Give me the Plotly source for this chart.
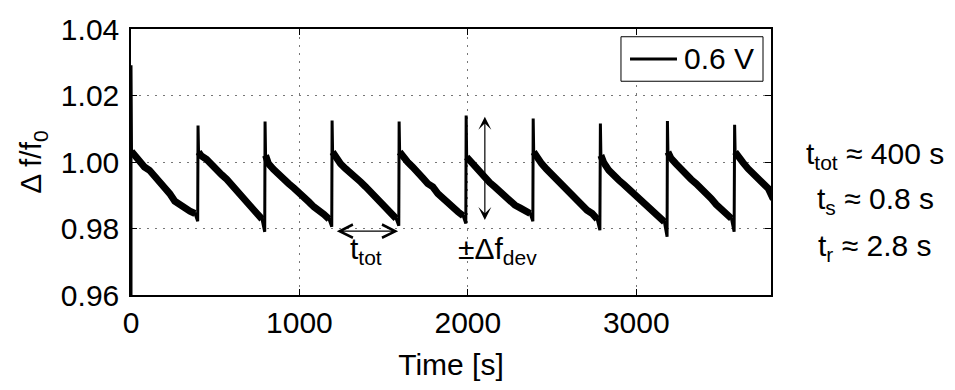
import plotly.graph_objects as go

# Sawtooth record of the normalised frequency shift at 0.6 V
series_name = "0.6 V"
cycle_start = [0, 398, 796, 1194, 1592, 1990, 2388, 2787, 3185, 3584]
spike_peak = [1.0291, 1.0110, 1.0122, 1.0125, 1.0122, 1.0140, 1.0131, 1.0116, 1.0123, 1.0112]
start_level = 0.955

# time after each reset (s) and the drifting level read along each tooth
decay_offset = [3, 20, 50, 80, 110, 140, 170, 200, 230, 260, 290, 320, 350, 380, 396]
decay_c1 = [1.0032, 1.0020, 1.0005, 0.9985, 0.9975, 0.9958, 0.9940, 0.9925, 0.9905, 0.9882, 0.9870, 0.9860, 0.9852, 0.9845, 0.9822]
decay_c2 = [1.0030, 1.0018, 1.0008, 0.9990, 0.9978, 0.9962, 0.9948, 0.9932, 0.9912, 0.9893, 0.9878, 0.9862, 0.9845, 0.9828, 0.9790]
decay_c3 = [1.0020, 0.9995, 0.9978, 0.9962, 0.9948, 0.9935, 0.9922, 0.9910, 0.9895, 0.9880, 0.9865, 0.9850, 0.9842, 0.9828, 0.9805]
decay_c4 = [1.0030, 1.0015, 0.9995, 0.9980, 0.9968, 0.9952, 0.9940, 0.9925, 0.9910, 0.9890, 0.9875, 0.9860, 0.9845, 0.9830, 0.9808]
decay_c5 = [1.0030, 1.0018, 1.0000, 0.9985, 0.9965, 0.9952, 0.9935, 0.9925, 0.9905, 0.9890, 0.9875, 0.9862, 0.9850, 0.9838, 0.9815]
decay_c6 = [1.0015, 1.0005, 0.9985, 0.9968, 0.9955, 0.9938, 0.9925, 0.9910, 0.9895, 0.9880, 0.9870, 0.9862, 0.9855, 0.9845, 0.9822]
decay_c7 = [1.0030, 1.0015, 0.9995, 0.9978, 0.9962, 0.9945, 0.9930, 0.9915, 0.9900, 0.9885, 0.9870, 0.9855, 0.9845, 0.9828, 0.9795]
decay_c8 = [1.0020, 0.9998, 0.9975, 0.9958, 0.9945, 0.9932, 0.9918, 0.9905, 0.9892, 0.9878, 0.9862, 0.9848, 0.9835, 0.9820, 0.9775]
decay_c9 = [1.0030, 1.0012, 0.9995, 0.9978, 0.9962, 0.9948, 0.9935, 0.9922, 0.9905, 0.9890, 0.9872, 0.9858, 0.9845, 0.9830, 0.9790]
decay_c10 = [1.0030, 1.0015, 0.9998, 0.9980, 0.9965, 0.9950, 0.9935, 0.9920, 0.9888]
cycle_decay = [decay_c1, decay_c2, decay_c3, decay_c4, decay_c5,
               decay_c6, decay_c7, decay_c8, decay_c9, decay_c10]

x_ticks = [0, 1000, 2000, 3000]
y_ticks = [0.96, 0.98, 1.00, 1.02, 1.04]

# t_tot marker spans one full period; the deviation marker spans one tooth
t_tot_span = [1213, 1586]
t_tot_level = 0.9792
dev_time = 2101
dev_span = [0.9821, 1.0136]

# full record (resets included) and the drifting parts only, which carry the noise band
time_s = [0.0]
ratio = [start_level]
band_t, band_v = [], []
for t0, peak, vals in zip(cycle_start, spike_peak, cycle_decay):
    time_s.append(t0)
    ratio.append(peak)
    for i, (off, v) in enumerate(zip(decay_offset, vals)):
        time_s.append(t0 + off)
        ratio.append(v)
        if i < len(decay_offset) - 1:
            band_t.append(t0 + off)
            band_v.append(v)
    band_t.append(None)
    band_v.append(None)

FONT = "Liberation Sans, Arial, Helvetica, sans-serif"

fig = go.Figure()
fig.add_trace(go.Scatter(
    x=time_s, y=ratio, mode="lines", name=series_name,
    line=dict(color="black", width=3),
))
fig.add_trace(go.Scatter(
    x=band_t, y=band_v, mode="lines", showlegend=False, hoverinfo="skip",
    line=dict(color="black", width=7), connectgaps=False,
))

axis_common = dict(
    showline=True, linecolor="black", linewidth=1.5, mirror="ticks",
    ticks="inside", ticklen=6, tickcolor="black", tickwidth=1,
    showgrid=True, gridcolor="#777", gridwidth=1, griddash="2px,6px",
    zeroline=False, tickfont=dict(size=30, color="black", family=FONT),
)

fig.update_xaxes(range=[0, 3800], tickvals=x_ticks,
                 title=dict(text="Time [s]", font=dict(size=30, family=FONT, color="black"), standoff=16),
                 **axis_common)
fig.update_yaxes(range=[0.96, 1.04], tickvals=y_ticks, tickformat=".2f",
                 title=dict(text="Δ f/f<sub>0</sub>", font=dict(size=30, family=FONT, color="black"), standoff=10),
                 ticklabelstandoff=4,
                 **axis_common)

# double-headed markers
fig.add_annotation(x=t_tot_span[1], y=t_tot_level, ax=t_tot_span[0], ay=t_tot_level,
                   xref="x", yref="y", axref="x", ayref="y", text="",
                   showarrow=True, arrowhead=5, startarrowhead=5, arrowside="end+start",
                   arrowwidth=1.3, arrowsize=2, startarrowsize=2, arrowcolor="black")
fig.add_annotation(x=dev_time, y=dev_span[1], ax=dev_time, ay=dev_span[0],
                   xref="x", yref="y", axref="x", ayref="y", text="",
                   showarrow=True, arrowhead=3, startarrowhead=3, arrowside="end+start",
                   arrowwidth=1.2, arrowsize=1.8, startarrowsize=1.8, arrowcolor="black")

label_font = dict(size=30, family=FONT, color="black")
fig.add_annotation(x=1396, y=0.9735, xref="x", yref="y", text="t<sub>tot</sub>",
                   showarrow=False, font=label_font)
fig.add_annotation(x=2175, y=0.9735, xref="x", yref="y", text="±Δf<sub>dev</sub>",
                   showarrow=False, font=label_font)

# timing summary beside the axes
side_lines = ["t<sub>tot</sub> ≈ 400 s", "t<sub>s</sub> ≈ 0.8 s", "t<sub>r</sub> ≈ 2.8 s"]
side_y = [0.525, 0.355, 0.18]
for txt, yy in zip(side_lines, side_y):
    fig.add_annotation(x=1.163, y=yy, xref="paper", yref="paper", text=txt,
                       showarrow=False, font=label_font, xanchor="center", yanchor="middle")

# boxed key in the upper right corner of the axes
fig.add_shape(type="rect", xref="paper", yref="paper", x0=0.7656, x1=0.9875, y0=0.8036, y1=0.9709,
              line=dict(color="black", width=1), fillcolor="white", layer="above")
fig.add_shape(type="line", xref="paper", yref="paper", x0=0.7797, x1=0.8531, y0=0.8873, y1=0.8873,
              line=dict(color="black", width=3), layer="above")
fig.add_annotation(x=0.861, y=0.8873, xref="paper", yref="paper", text=series_name,
                   showarrow=False, font=label_font, xanchor="left", yanchor="middle")

fig.update_layout(
    width=955, height=390,
    margin=dict(l=131, r=184, t=20, b=95),
    paper_bgcolor="white", plot_bgcolor="white",
    font=dict(family=FONT, color="black"),
    showlegend=False,
)

fig.write_html("out.html")
